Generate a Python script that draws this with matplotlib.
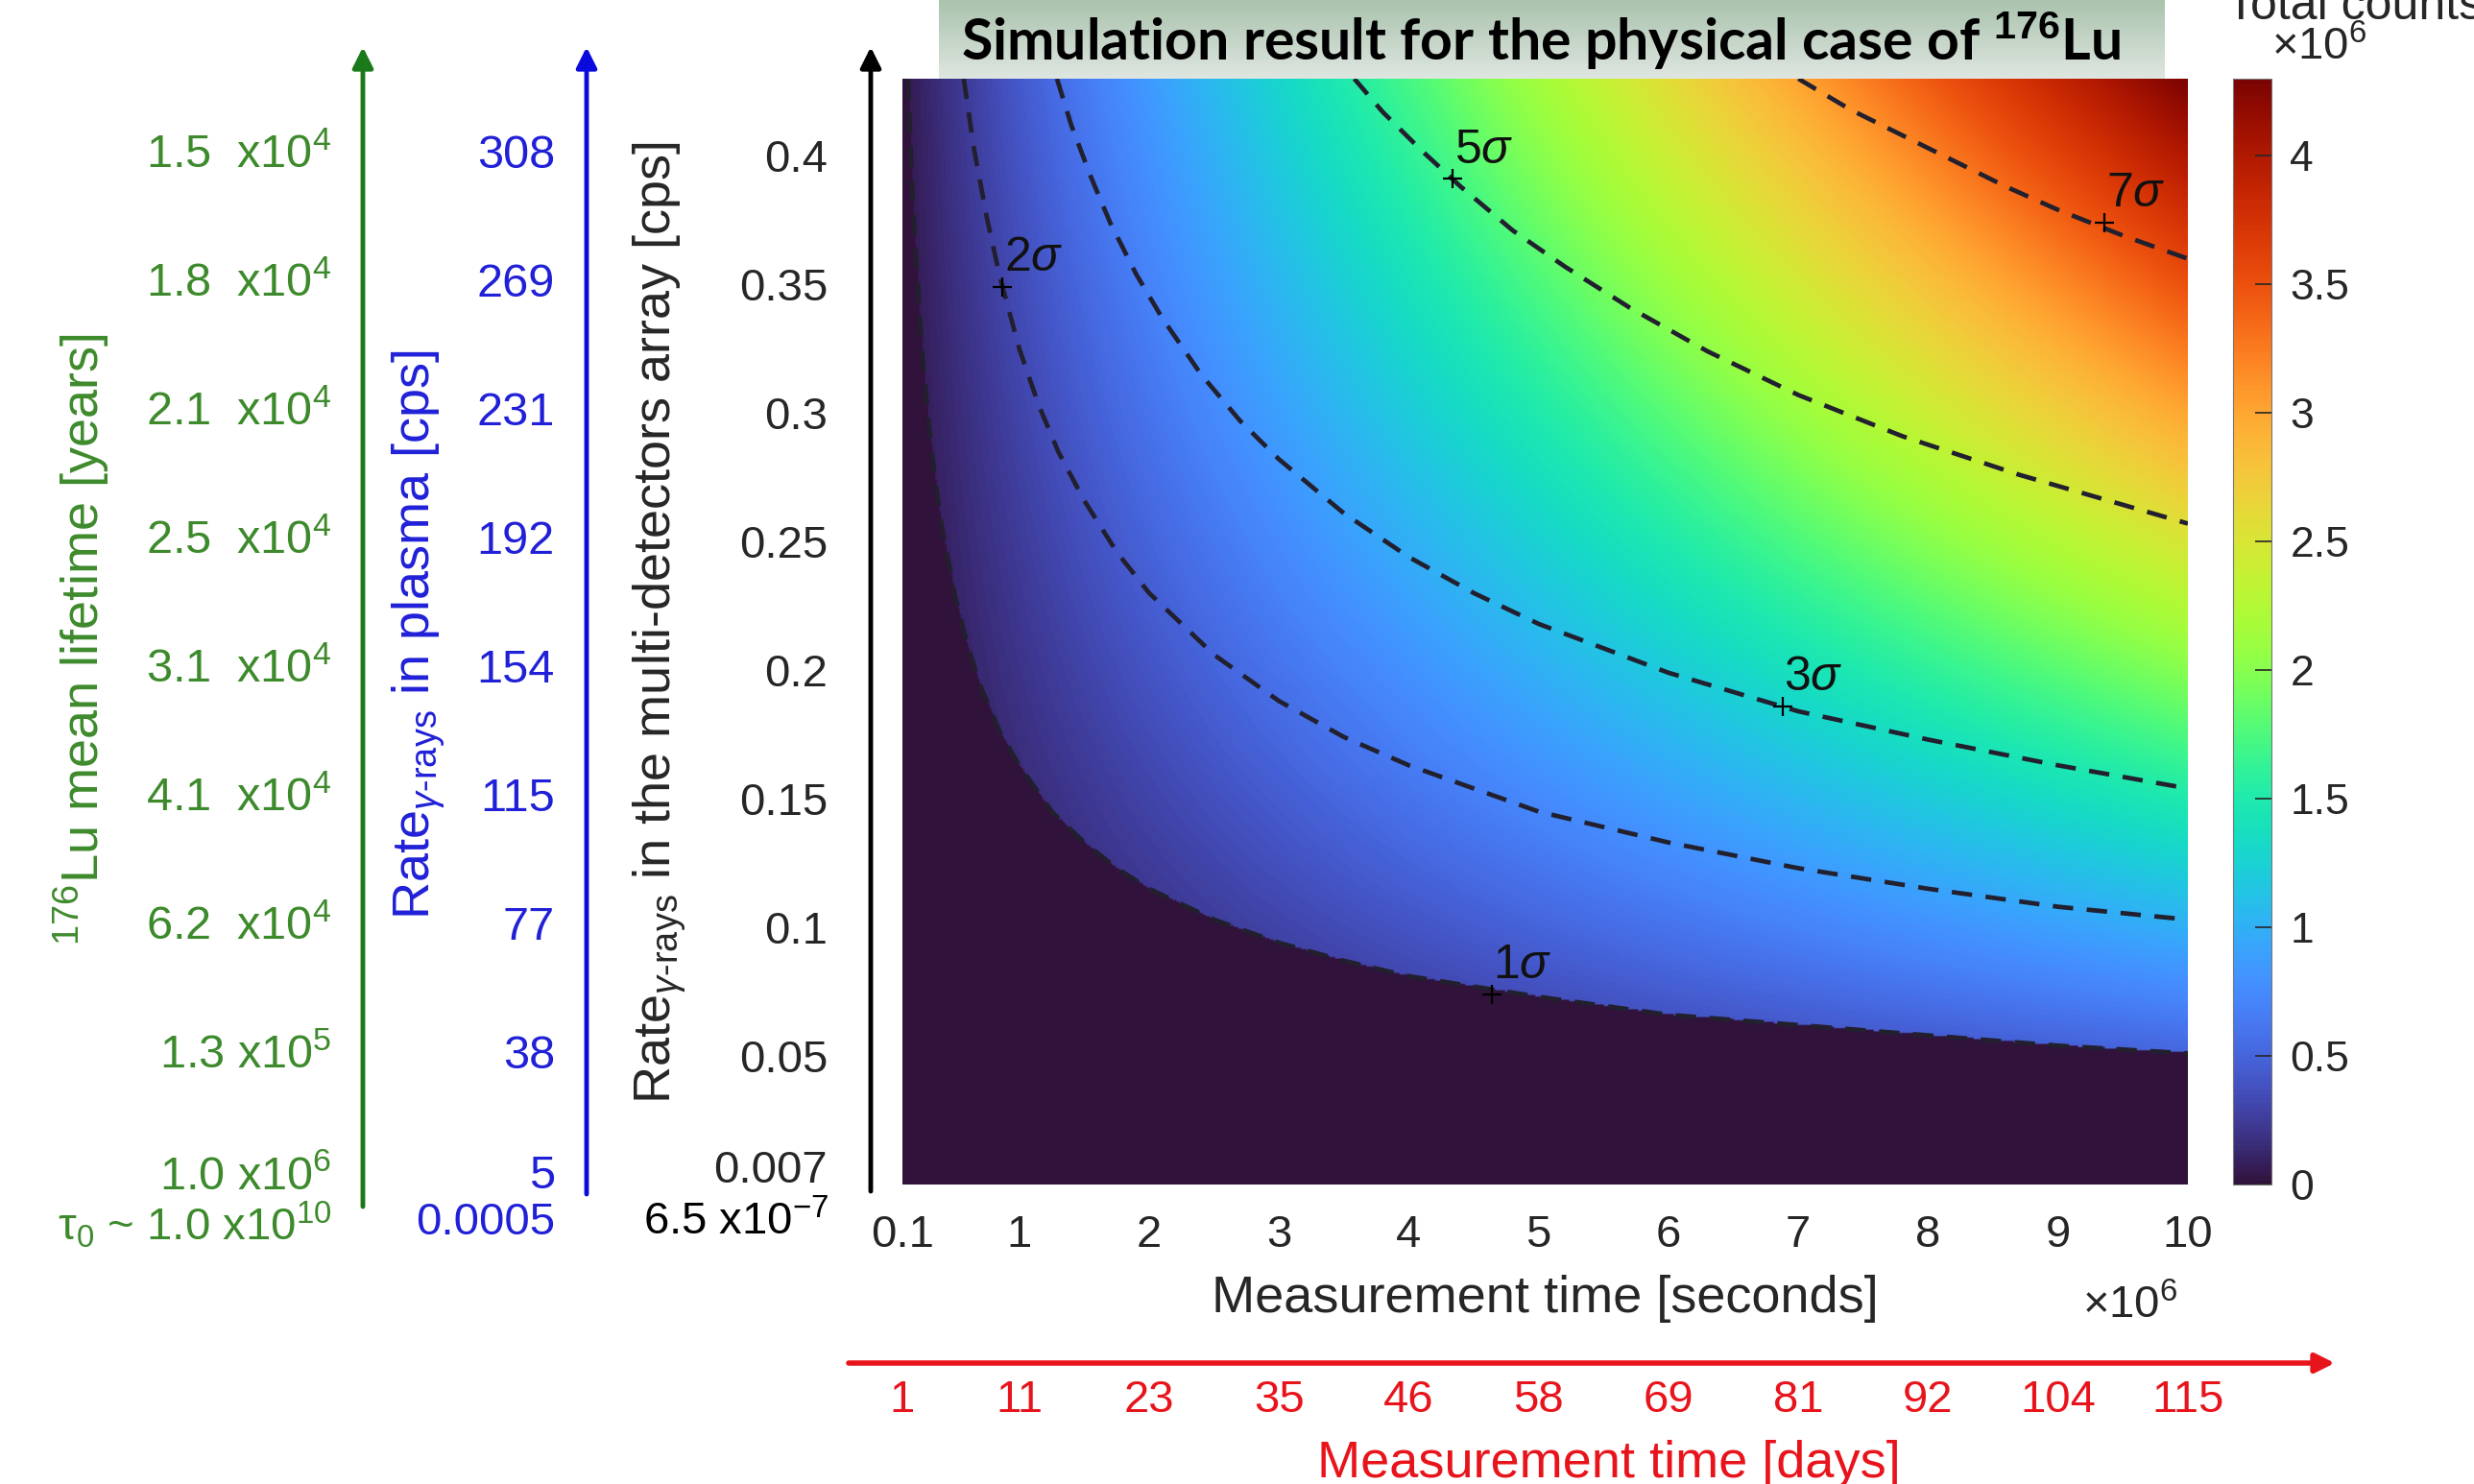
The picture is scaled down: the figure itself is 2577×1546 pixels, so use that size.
import numpy as np
import matplotlib.pyplot as plt
from matplotlib import transforms
from matplotlib.colors import LinearSegmentedColormap

plt.switch_backend("Agg")

plt.rcParams["font.family"] = ["Liberation Sans", "DejaVu Sans"]
plt.rcParams["mathtext.fontset"] = "custom"
plt.rcParams["mathtext.rm"] = "Liberation Sans"
plt.rcParams["mathtext.it"] = "Liberation Sans:italic"
plt.rcParams["mathtext.bf"] = "Liberation Sans:bold"

# ---- data ----
time_range = (0.1, 10.0)          # measurement time, x10^6 s
rate_range = (0.0, 0.43)          # rate in detectors array, cps
counts_max = 4.3                  # colorbar top, x10^6

time_ticks = [0.1, 1, 2, 3, 4, 5, 6, 7, 8, 9, 10]
time_tick_labels = ["0.1", "1", "2", "3", "4", "5", "6", "7", "8", "9", "10"]
days_labels = ["1", "11", "23", "35", "46", "58", "69", "81", "92", "104", "115"]

rate_ticks = [0.4, 0.35, 0.3, 0.25, 0.2, 0.15, 0.1, 0.05, 0.007]
rate_tick_labels = ["0.4", "0.35", "0.3", "0.25", "0.2", "0.15", "0.1", "0.05", "0.007"]
plasma_labels = ["308", "269", "231", "192", "154", "115", "77", "38", "5"]
lifetime_labels = [r"1.5  x10$^4$", r"1.8  x10$^4$", r"2.1  x10$^4$", r"2.5  x10$^4$",
                   r"3.1  x10$^4$", r"4.1  x10$^4$", r"6.2  x10$^4$", r"1.3 x10$^5$",
                   r"1.0 x10$^6$"]
origin_labels = [r"τ$_0$ ~ 1.0 x10$^{10}$", "0.0005", r"6.5 x10$^{-7}$"]

cbar_ticks = [0, 0.5, 1, 1.5, 2, 2.5, 3, 3.5, 4]
cbar_tick_labels = ["0", "0.5", "1", "1.5", "2", "2.5", "3", "3.5", "4"]

# significance contours (time x10^6 s, rate cps)
sig1_t = [0.143, 0.16, 0.18, 0.2, 0.25, 0.3, 0.35, 0.4, 0.5, 0.6, 0.7, 0.85, 1,
          1.25, 1.5, 1.75, 2, 2.5, 3, 3.5, 4, 5, 6, 7, 8, 9, 10]
sig1_r = [0.430, 0.407, 0.383, 0.364, 0.325, 0.297, 0.275, 0.257, 0.230, 0.210,
          0.194, 0.176, 0.163, 0.145, 0.133, 0.123, 0.115, 0.103, 0.094, 0.087,
          0.081, 0.073, 0.066, 0.062, 0.058, 0.054, 0.051]
sig2_t = [0.572, 0.65, 0.75, 0.85, 1, 1.15, 1.3, 1.5, 1.75, 2, 2.5, 3, 3.5, 4,
          5, 6, 7, 8, 9, 10]
sig2_r = [0.430, 0.403, 0.376, 0.353, 0.325, 0.303, 0.285, 0.266, 0.246, 0.230,
          0.206, 0.188, 0.174, 0.163, 0.145, 0.133, 0.123, 0.115, 0.108, 0.103]
sig3_t = [1.29, 1.4, 1.55, 1.7, 1.9, 2.1, 2.4, 2.7, 3, 3.5, 4, 4.5, 5, 6, 7, 8, 9, 10]
sig3_r = [0.430, 0.412, 0.392, 0.374, 0.354, 0.337, 0.315, 0.297, 0.282, 0.261,
          0.244, 0.230, 0.218, 0.199, 0.184, 0.173, 0.163, 0.154]
sig5_t = [3.58, 3.8, 4.1, 4.4, 4.8, 5.2, 5.7, 6.3, 7, 7.8, 8.7, 10]
sig5_r = [0.430, 0.417, 0.402, 0.388, 0.371, 0.357, 0.341, 0.324, 0.307, 0.291,
          0.276, 0.257]
sig7_t = [7.0, 7.4, 7.8, 8.2, 8.6, 9.0, 9.5, 10]
sig7_r = [0.430, 0.418, 0.408, 0.398, 0.388, 0.379, 0.369, 0.360]

sig_names = [r"$1\sigma$", r"$2\sigma$", r"$3\sigma$", r"$5\sigma$", r"$7\sigma$"]
sig_mark_t = [4.64, 0.87, 6.88, 4.34, 9.36]
sig_mark_r = [0.074, 0.349, 0.186, 0.391, 0.374]

# ---- colours ----
green_txt = "#3d8a2c"
green_arrow = "#1a7a1a"
blue_txt = "#2020d8"
blue_arrow = "#0a0adc"
red = "#e8141c"
dark = "#262626"

W, H = 2577, 1546
fig = plt.figure(figsize=(W / 100, H / 100), dpi=100)

# main heat map
ax = fig.add_axes([940 / W, 1 - 1234 / H, (2279 - 940) / W, (1234 - 82) / H])
t = np.linspace(time_range[0], time_range[1], 900)
r = np.linspace(rate_range[0], rate_range[1], 700)
counts = np.outer(r, t)  # total counts = rate x time (x10^6)
edge = np.interp(t, sig1_t, sig1_r, left=10.0)
counts[r[:, None] < edge[None, :]] = 0.0
im = ax.imshow(counts, origin="lower", aspect="auto", cmap="turbo",
               extent=(time_range[0], time_range[1], rate_range[0], rate_range[1]),
               vmin=0, vmax=counts_max, interpolation="bilinear")

for tt, rr in [(sig1_t, sig1_r), (sig2_t, sig2_r), (sig3_t, sig3_r),
               (sig5_t, sig5_r), (sig7_t, sig7_r)]:
    ax.plot(tt, rr, ls=(0, (4.5, 3.0)), color="#22202e", lw=3.4)
ax.plot(sig_mark_t, sig_mark_r, "+", color="k", ms=14, mew=1.6)
for name, tt, rr in zip(sig_names, sig_mark_t, sig_mark_r):
    ax.annotate(name, (tt, rr), xytext=(1, 5), textcoords="offset points",
                fontsize=36, color="#111111", ha="left", va="bottom")

ax.set_xlim(*time_range)
ax.set_ylim(*rate_range)
ax.set_xticks(time_ticks, time_tick_labels)
ax.set_yticks(rate_ticks, rate_tick_labels)
ax.tick_params(axis="both", length=0, labelsize=34, colors=dark)
ax.tick_params(axis="x", pad=22)
ax.tick_params(axis="y", pad=56)
for s in ax.spines.values():
    s.set_visible(False)
ax.set_xlabel("Measurement time [seconds]", fontsize=39, color=dark, labelpad=14)

# colour bar
cax = fig.add_axes([2326 / W, 1 - 1234 / H, 40 / W, (1234 - 82) / H])
cb = fig.colorbar(im, cax=cax)
cb.set_ticks(cbar_ticks, labels=cbar_tick_labels)
cax.tick_params(direction="in", length=12, width=1.2, labelsize=32, colors=dark, pad=14)
cb.outline.set_edgecolor("#777777")

# overlay in pixel coordinates for the hand-drawn scales
ov = fig.add_axes([0, 0, 1, 1], zorder=5)
ov.patch.set_alpha(0)
ov.axis("off")

grad = np.linspace(0, 1, 100)[:, None]
box_cmap = LinearSegmentedColormap.from_list("box", ["#aac3ad", "#dfe6e1"])
ov.imshow(grad, extent=(978, 2255, 82, 0), aspect="auto", cmap=box_cmap)
ov.set_xlim(0, W)
ov.set_ylim(H, 0)
ov.text(1605, 42, r"Simulation result for the physical case of $^{\mathbf{176}}$Lu",
        fontsize=42.5, fontweight="bold", family=["Lato", "DejaVu Sans"],
        ha="center", va="center", color="k")

ov.text(2453, 30, "Total counts", fontsize=36, color=dark, ha="center", va="bottom")
ov.text(2416, 50, r"$\times$10$^6$", fontsize=34, color=dark, ha="center", va="center")
ov.text(2219, 1361, r"$\times$10$^6$", fontsize=34, color=dark, ha="center", va="center")

# vertical arrows
for x, c, y0 in [(378, green_arrow, 1257), (611, blue_arrow, 1244), (907, "k", 1241)]:
    ov.annotate("", xy=(x, 49), xytext=(x, y0),
                arrowprops=dict(arrowstyle="-|>", color=c, lw=3.5, mutation_scale=32,
                                shrinkA=0, shrinkB=0))

# lifetime and plasma rate scales, aligned with the rate axis
blend = transforms.blended_transform_factory(ov.transData, ax.transData)
for i, (lt, pl) in enumerate(zip(lifetime_labels, plasma_labels)):
    y = rate_ticks[i] if i < len(rate_ticks) - 1 else 0.003
    ov.text(345, y, lt, transform=blend, fontsize=35, color=green_txt,
            ha="right", va="center")
    ov.text(578, y, pl, transform=blend, fontsize=35, color=blue_txt,
            ha="right", va="center")

ov.text(345, 1276, origin_labels[0], fontsize=34, color=green_txt, ha="right", va="center")
ov.text(578, 1274, origin_labels[1], fontsize=34, color=blue_txt, ha="right", va="center")
ov.text(863, 1274, origin_labels[2], fontsize=34, color="k", ha="right", va="center")

ov.text(85, 666, r"$^{176}$Lu mean lifetime [years]", fontsize=39, color=green_txt,
        rotation=90, ha="center", va="center")
ov.text(436, 661, r"Rate$_{\gamma\text{-rays}}$ in plasma [cps]", fontsize=39,
        color=blue_txt, rotation=90, ha="center", va="center")
ov.text(687, 649, r"Rate$_{\gamma\text{-rays}}$ in the multi-detectors array [cps]",
        fontsize=39, color=dark, rotation=90, ha="center", va="center")

# days axis
ov.annotate("", xy=(2432, 1420), xytext=(884, 1420),
            arrowprops=dict(arrowstyle="-|>", color=red, lw=4, mutation_scale=30,
                            shrinkA=0, shrinkB=0))
blend_x = transforms.blended_transform_factory(ax.transData, ov.transData)
for tt, lab in zip(time_ticks, days_labels):
    ov.text(tt, 1459, lab, transform=blend_x, fontsize=34, color=red,
            ha="center", va="center")
ov.text(1676, 1525, "Measurement time [days]", fontsize=39, color=red,
        ha="center", va="center")

fig.savefig("out.png", dpi=100, facecolor="white")
